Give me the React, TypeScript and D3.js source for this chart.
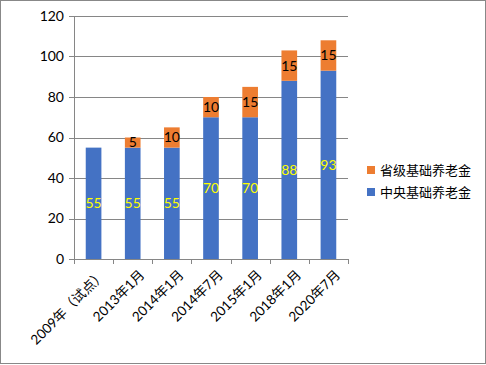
import React from "react";
import * as d3 from "d3";

const categories = ["2009年（试点）", "2013年1月", "2014年1月", "2014年7月", "2015年1月", "2018年1月", "2020年7月"];
const central = [55, 55, 55, 70, 70, 88, 93];
const provincial = [0, 5, 10, 10, 15, 15, 15];
const yTicks = [0, 20, 40, 60, 80, 100, 120];
const seriesNames = ["省级基础养老金", "中央基础养老金"];

const W = 486, H = 365;
const left = 74, right = 348, top = 16, bottom = 259;
const BLUE = "#4472C4", ORANGE = "#ED7D31", GRID = "#868686";
const FONT = "Lato, 'Noto Sans CJK SC', sans-serif";

export default function App() {
  const x = d3.scaleBand<string>().domain(categories).range([left, right]).paddingInner(0.6).paddingOuter(0.3);
  const xb = d3.scaleBand<string>().domain(categories).range([left, right]);
  const y = d3.scaleLinear().domain([0, 120]).range([bottom, top]);
  return (
    <svg width={W} height={H} style={{ position: "absolute", left: 0, top: 0, background: "#fff" }} fontFamily={FONT}>
      <rect x={0.5} y={0.5} width={485} height={363} fill="#fff" stroke="#888" />
      {yTicks.map((t) => (
        <g key={t}>
          <line x1={left - 5} x2={right} y1={Math.round(y(t)) + 0.5} y2={Math.round(y(t)) + 0.5} stroke={GRID} strokeWidth={1} />
          <text x={left - 10} y={y(t)} dy="0.35em" textAnchor="end" fontSize={14} fill="#000">{t}</text>
        </g>
      ))}
      <line x1={left + 0.5} x2={left + 0.5} y1={top} y2={bottom} stroke={GRID} />
      {categories.map((c, i) => (
        <line key={"t" + i} x1={Math.round(xb(c)!) + 0.5} x2={Math.round(xb(c)!) + 0.5} y1={bottom} y2={bottom + 5} stroke={GRID} />
      ))}
      <line x1={right + 0.5} x2={right + 0.5} y1={bottom} y2={bottom + 5} stroke={GRID} />
      {categories.map((c, i) => {
        const bx = x(c)!;
        const bw = x.bandwidth();
        const c0 = central[i];
        const p = provincial[i];
        return (
          <g key={c}>
            <rect x={bx} y={y(c0)} width={bw} height={y(0) - y(c0)} fill={BLUE} />
            {p > 0 && <rect x={bx} y={y(c0 + p)} width={bw} height={y(c0) - y(c0 + p)} fill={ORANGE} />}
            <text x={bx + bw / 2} y={y(c0 / 2)} dy="0.35em" textAnchor="middle" fontSize={14} fill="#FFFF00">{c0}</text>
            {p > 0 && <text x={bx + bw / 2} y={y(c0 + p / 2)} dy="0.35em" textAnchor="middle" fontSize={14} fill="#000">{p}</text>}
            <text transform={`translate(${bx + bw / 2 + 6},${bottom + 10}) rotate(-45)`} textAnchor="end" dy="0.7em" fontSize={13.5} fill="#000">{c}</text>
          </g>
        );
      })}
      {seriesNames.map((s, i) => (
        <g key={s} transform={`translate(367,${166 + i * 22})`}>
          <rect x={0} y={0} width={8} height={8} fill={i === 0 ? ORANGE : BLUE} />
          <text x={13} y={4} dy="0.35em" fontSize={13} fill="#000">{s}</text>
        </g>
      ))}
    </svg>
  );
}
